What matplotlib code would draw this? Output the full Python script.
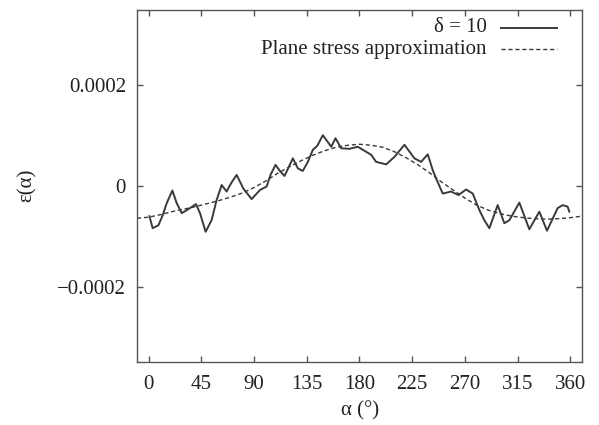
import matplotlib
matplotlib.use("Agg")
import matplotlib.pyplot as plt
from matplotlib.lines import Line2D

# Measured strain (delta = 10), angle in degrees, strain in units of 1e-4
alpha_meas = [0.6, 3.4, 8.3, 12, 15.4, 20.2, 23.9, 28.2, 33.9, 40.4, 43.8, 48.6,
              53.7, 58, 62.3, 66.5, 71, 75.1, 80.8, 87.9, 95.0, 100.7, 104, 108.3,
              112, 116, 123.1, 127.4, 131.6, 135.9, 140.2, 144, 148.7, 155.9, 159.5,
              164.4, 171.5, 178.6, 185.7, 190, 194.2, 202.8, 209.9, 218.4, 226.9,
              232.6, 238.3, 242.5, 245.4, 251.1, 258.2, 264.5, 271, 276.7, 282.4,
              286.6, 290.9, 298.0, 303.7, 308.0, 316.5, 325.0, 333.6, 340.1, 349.2,
              353.5, 357.7, 359.2]
eps_meas = [-0.60, -0.84, -0.78, -0.58, -0.34, -0.09, -0.34, -0.54, -0.46, -0.36,
            -0.54, -0.91, -0.68, -0.28, 0.02, -0.11, 0.08, 0.22, -0.05, -0.26, -0.08,
            -0.01, 0.22, 0.42, 0.30, 0.20, 0.55, 0.35, 0.30, 0.48, 0.72, 0.80, 1.01,
            0.78, 0.95, 0.75, 0.74, 0.78, 0.68, 0.62, 0.48, 0.43, 0.58, 0.82, 0.55,
            0.48, 0.63, 0.32, 0.15, -0.15, -0.11, -0.18, -0.07, -0.15, -0.48, -0.68,
            -0.84, -0.38, -0.74, -0.68, -0.33, -0.86, -0.51, -0.89, -0.44, -0.38,
            -0.41, -0.51]

# Plane stress approximation
alpha_ps = [-10, 0, 10, 20, 30, 40, 50, 60, 70, 80, 90, 100, 110, 120, 130, 140,
            150, 160, 170, 180, 190, 200, 210, 220, 230, 240, 250, 260, 270, 280,
            290, 300, 310, 320, 330, 340, 350, 360, 370]
eps_ps = [-0.64, -0.62, -0.57, -0.51, -0.46, -0.41, -0.35, -0.29, -0.22, -0.14,
          -0.03, 0.10, 0.25, 0.38, 0.50, 0.61, 0.70, 0.77, 0.81, 0.83, 0.81, 0.77,
          0.68, 0.56, 0.42, 0.26, 0.08, -0.08, -0.24, -0.38, -0.48, -0.55, -0.60,
          -0.63, -0.65, -0.66, -0.65, -0.63, -0.60]

x_ticks = [0, 45, 90, 135, 180, 225, 270, 315, 360]
y_ticks = [-0.0002, 0, 0.0002]
y_tick_labels = ["\u22120.0002", "0", "0.0002"]

SCALE = 1e-4
FS = 15
plt.rcParams["font.family"] = ["Liberation Serif", "DejaVu Serif"]
plt.rcParams["font.size"] = FS

fig = plt.figure(figsize=(5.99, 4.25), dpi=100)
ax = fig.add_axes([0.2287, 0.1482, 0.7429, 0.8283])

line_col = "#3a3a3a"
ax.plot(alpha_meas, [v * SCALE for v in eps_meas], color=line_col, lw=1.4,
        solid_joinstyle="round")
ax.plot(alpha_ps, [v * SCALE for v in eps_ps], color=line_col, lw=1.0,
        linestyle=(0, (3, 2)))

ax.set_xlim(-10, 370)
ax.set_ylim(-0.00035, 0.00035)
ax.set_xticks(x_ticks)
ax.set_yticks(y_ticks)
ax.set_yticklabels(y_tick_labels)

for s in ax.spines.values():
    s.set_color("#555555")
    s.set_linewidth(1.0)
ax.tick_params(direction="in", length=4, width=1.0, color="#555555",
               top=True, right=True, labelsize=FS, labelcolor="#222222")
ax.tick_params(axis="x", pad=9)
ax.tick_params(axis="y", pad=8)

ax.set_xlabel("\u03b1 (\u00b0)", fontsize=FS, color="#222222")
ax.set_ylabel("\u03b5(\u03b1)", fontsize=FS, color="#222222")
ax.xaxis.set_label_coords(0.501, -0.112)
ax.yaxis.set_label_coords(-0.225, 0.503)

# Key, drawn in axes coordinates with text right-aligned before the sample line
keys = [("\u03b4 = 10", "-", 1.4, 0.949), ("Plane stress approximation", (0, (3, 2)), 1.0, 0.889)]
for label, ls, lw, yk in keys:
    ax.text(0.7865, yk, label, transform=ax.transAxes, ha="right", va="center",
            fontsize=FS, color="#222222")
    ax.add_line(Line2D([0.817, 0.9445], [yk, yk], transform=ax.transAxes,
                       color=line_col, lw=lw, linestyle=ls))

fig.savefig("out.png", dpi=100)
